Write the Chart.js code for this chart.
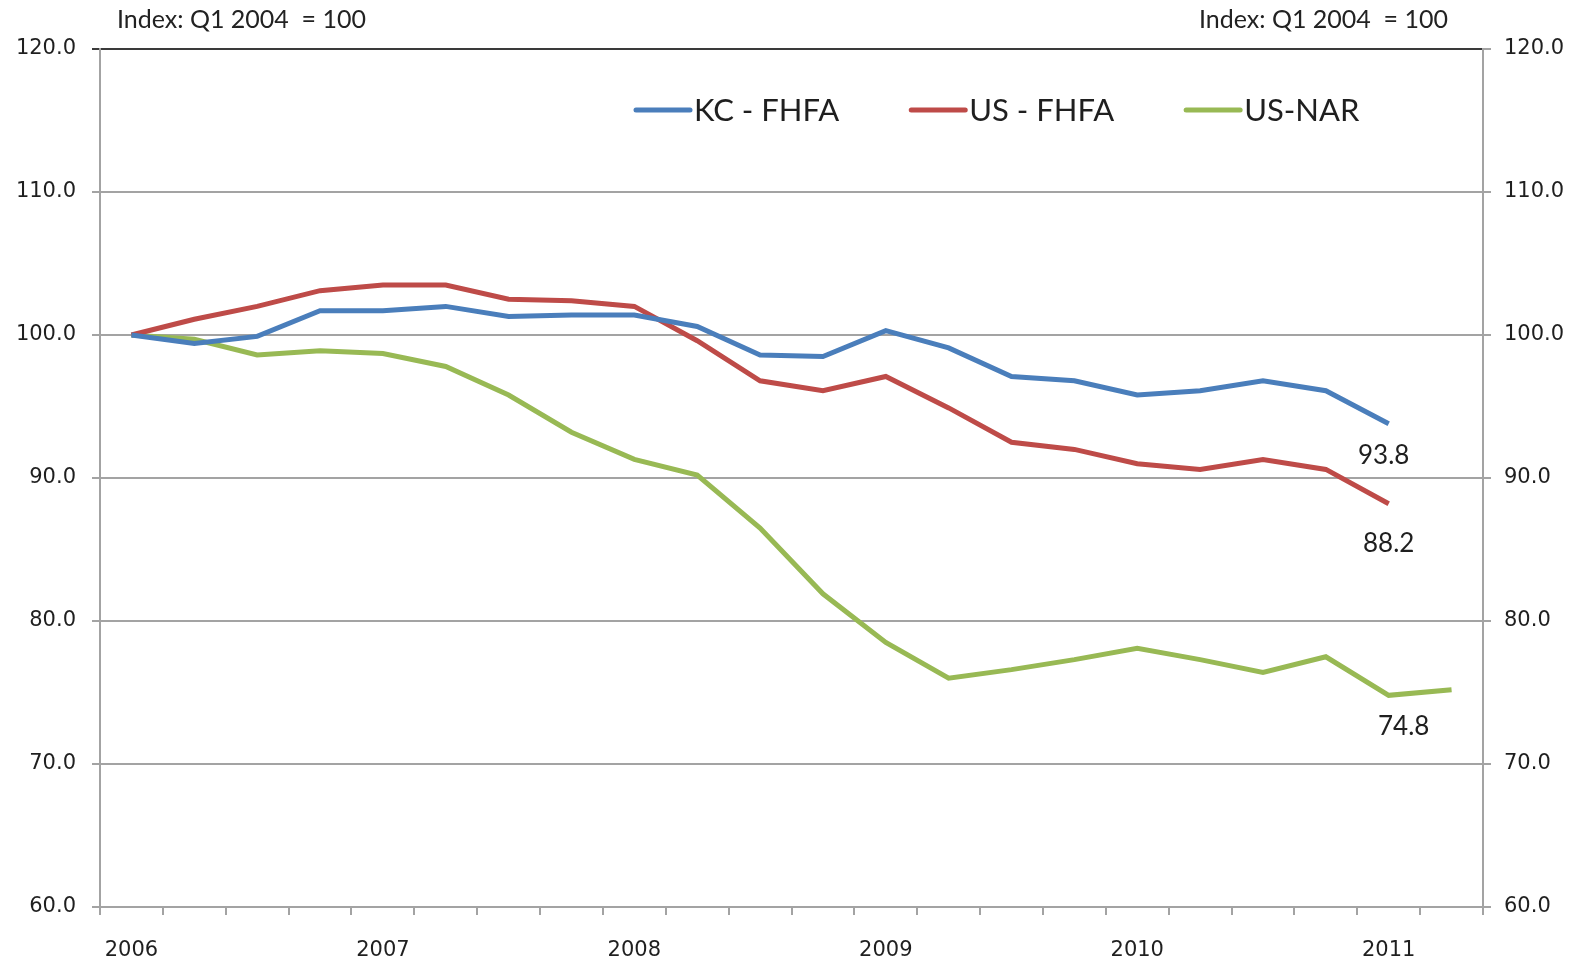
<!DOCTYPE html>
<html>
<head>
<meta charset="utf-8">
<script src="https://cdn.jsdelivr.net/npm/chart.js@4/dist/chart.umd.min.js"></script>
<style>
  body { margin: 0; background: #fff; }
  canvas { display: block; }
</style>
</head>
<body>
<canvas id="hpiChart" width="1577" height="964"></canvas>
<script>
// quarters 2006 Q1 .. 2011 Q2
let quarters = ["2006 Q1","2006 Q2","2006 Q3","2006 Q4","2007 Q1","2007 Q2","2007 Q3","2007 Q4",
                "2008 Q1","2008 Q2","2008 Q3","2008 Q4","2009 Q1","2009 Q2","2009 Q3","2009 Q4",
                "2010 Q1","2010 Q2","2010 Q3","2010 Q4","2011 Q1","2011 Q2"];

let kcFhfa = [100.0, 99.4, 99.9, 101.7, 101.7, 102.0, 101.3, 101.4, 101.4, 100.6, 98.6,
              98.5, 100.3, 99.1, 97.1, 96.8, 95.8, 96.1, 96.8, 96.1, 93.8, null];
let usFhfa = [100.0, 101.1, 102.0, 103.1, 103.5, 103.5, 102.5, 102.4, 102.0, 99.6, 96.8,
              96.1, 97.1, 94.9, 92.5, 92.0, 91.0, 90.6, 91.3, 90.6, 88.2, null];
let usNar  = [100.0, 99.7, 98.6, 98.9, 98.7, 97.8, 95.8, 93.2, 91.3, 90.2, 86.5,
              81.9, 78.5, 76.0, 76.6, 77.3, 78.1, 77.3, 76.4, 77.5, 74.8, 75.2];

let seriesNames = ["KC - FHFA", "US - FHFA", "US-NAR"];
let seriesColors = ["#4a7ebb", "#be4b48", "#98b954"];

let yMin = 60, yMax = 120, yStep = 10;
let headerText = "Index: Q1 2004  = 100";

// value labels shown at the 2011 Q1 point
let labelIndex = 20;

let gray = "#a3a3a3";
let axisFont = { family: "DejaVu Sans", size: 21 };

// header text + legend inside plot + end-point labels
const extrasPlugin = {
    id: "extras",
    afterDraw(chart) {
        let ctx = chart.ctx;
        let area = chart.chartArea;
        ctx.save();

        // header
        ctx.fillStyle = "#222";
        ctx.font = "25px Lato";
        ctx.textBaseline = "middle";
        ctx.textAlign = "left";
        ctx.fillText(headerText, area.left + 17, 20);
        ctx.textAlign = "right";
        ctx.fillText(headerText, area.right - 35, 20);

        // legend
        ctx.font = "31px Lato";
        ctx.textAlign = "left";
        let x = area.left + 536;
        let y = area.top + 61;
        chart.data.datasets.forEach(ds => {
            ctx.strokeStyle = ds.borderColor;
            ctx.lineWidth = 5;
            ctx.lineCap = "round";
            ctx.beginPath();
            ctx.moveTo(x, y);
            ctx.lineTo(x + 54, y);
            ctx.stroke();
            ctx.fillStyle = "#1f1f1f";
            ctx.fillText(ds.label, x + 58, y + 1);
            x += 58 + ctx.measureText(ds.label).width + 72;
        });

        // value labels
        ctx.font = "26px Lato";
        ctx.textAlign = "center";
        ctx.fillStyle = "#1f1f1f";
        let offsets = [[-5, 32], [0, 40], [15, 31]];
        chart.data.datasets.forEach((ds, i) => {
            let pt = chart.getDatasetMeta(i).data[labelIndex];
            ctx.fillText(ds.data[labelIndex].toFixed(1), pt.x + offsets[i][0], pt.y + offsets[i][1]);
        });

        ctx.restore();
    }
};

function makeDataset(label, data, color) {
    return {
        label: label,
        data: data,
        borderColor: color,
        backgroundColor: color,
        borderWidth: 5,
        pointRadius: 0,
        tension: 0,
        yAxisID: "y"
    };
}

new Chart(document.getElementById("hpiChart"), {
    type: "line",
    data: {
        labels: quarters,
        datasets: [
            makeDataset(seriesNames[0], kcFhfa, seriesColors[0]),
            makeDataset(seriesNames[1], usFhfa, seriesColors[1]),
            makeDataset(seriesNames[2], usNar, seriesColors[2])
        ]
    },
    options: {
        responsive: false,
        animation: false,
        devicePixelRatio: 1,
        layout: { padding: { top: 49, left: 0, right: 0, bottom: 0 } },
        plugins: {
            legend: { display: false },
            tooltip: { enabled: false }
        },
        scales: {
            x: {
                offset: true,
                grid: { offset: true, drawOnChartArea: false, color: gray, lineWidth: 2, tickLength: 8 },
                border: { color: gray, width: 2 },
                ticks: {
                    autoSkip: false,
                    maxRotation: 0,
                    padding: 23,
                    color: "#1f1f1f",
                    font: axisFont,
                    callback: function (v, i) {
                        return i % 4 === 0 ? quarters[i].slice(0, 4) : "";
                    }
                },
                afterFit: s => { s.height = 57; }
            },
            y: {
                position: "left",
                min: yMin, max: yMax,
                grid: {
                    color: c => c.tick && c.tick.value === yMax ? "#3a3a3a" : gray,
                    lineWidth: 2,
                    tickLength: 8
                },
                border: { color: gray, width: 2 },
                ticks: {
                    stepSize: yStep,
                    padding: 16,
                    color: "#1f1f1f",
                    font: axisFont,
                    callback: v => Number(v).toFixed(1)
                },
                afterFit: s => { s.width = 100; }
            },
            y2: {
                position: "right",
                min: yMin, max: yMax,
                grid: { drawOnChartArea: false, color: gray, lineWidth: 2, tickLength: 8 },
                border: { color: gray, width: 2 },
                ticks: {
                    stepSize: yStep,
                    padding: 13,
                    color: "#1f1f1f",
                    font: axisFont,
                    callback: v => Number(v).toFixed(1)
                },
                afterFit: s => { s.width = 94; }
            }
        }
    },
    plugins: [extrasPlugin]
});
</script>
</body>
</html>
